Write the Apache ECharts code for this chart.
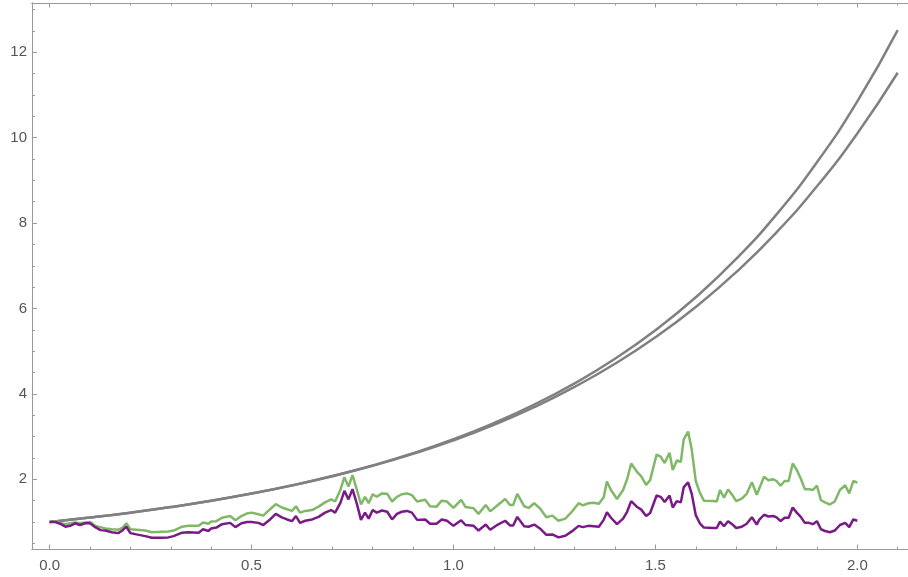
<!DOCTYPE html>
<html>
<head>
<meta charset="utf-8">
<script src="https://cdn.jsdelivr.net/npm/echarts@6/dist/echarts.min.js"></script>
<style>
html,body{margin:0;padding:0;background:#fff;}
#chart{width:908px;height:577px;}
</style>
</head>
<body>
<div id="chart"></div>
<script>
// ---- data ----
var pathX = [0.00,0.014,0.026,0.039,0.051,0.063,0.075,0.088,0.10,0.113,0.126,0.138,0.154,0.17,0.18,0.19,0.20,0.215,0.237,0.253,0.274,0.294,0.307,0.328,0.344,0.369,0.38,0.393,0.40,0.413,0.427,0.447,0.46,0.475,0.489,0.50,0.517,0.529,0.546,0.56,0.575,0.588,0.60,0.61,0.62,0.633,0.65,0.666,0.682,0.697,0.707,0.72,0.73,0.74,0.75,0.761,0.771,0.781,0.79,0.80,0.81,0.823,0.836,0.848,0.86,0.872,0.885,0.897,0.91,0.93,0.942,0.958,0.971,0.984,1.00,1.019,1.03,1.05,1.062,1.08,1.091,1.11,1.128,1.14,1.148,1.158,1.175,1.186,1.20,1.214,1.23,1.245,1.26,1.277,1.293,1.31,1.32,1.334,1.347,1.36,1.372,1.38,1.39,1.405,1.42,1.43,1.44,1.455,1.465,1.477,1.487,1.503,1.513,1.523,1.535,1.543,1.553,1.563,1.570,1.581,1.59,1.60,1.61,1.62,1.644,1.652,1.66,1.67,1.68,1.69,1.70,1.714,1.726,1.739,1.751,1.757,1.769,1.78,1.792,1.80,1.81,1.82,1.83,1.84,1.85,1.86,1.87,1.88,1.89,1.90,1.91,1.92,1.932,1.944,1.957,1.97,1.98,1.99,2.00];
var greenY = [1.00,1.02,0.98,0.95,0.97,0.99,0.97,0.99,1.00,0.91,0.88,0.85,0.83,0.82,0.86,0.97,0.83,0.82,0.80,0.76,0.77,0.78,0.80,0.89,0.91,0.91,0.99,0.96,1.01,1.02,1.10,1.14,1.04,1.14,1.20,1.22,1.18,1.15,1.30,1.42,1.34,1.30,1.26,1.37,1.22,1.26,1.28,1.36,1.46,1.53,1.48,1.75,2.05,1.83,2.10,1.75,1.41,1.59,1.44,1.65,1.59,1.67,1.66,1.48,1.59,1.65,1.67,1.63,1.48,1.52,1.37,1.36,1.50,1.48,1.33,1.52,1.35,1.32,1.19,1.40,1.25,1.40,1.54,1.40,1.40,1.66,1.37,1.33,1.44,1.32,1.11,1.15,1.03,1.08,1.24,1.44,1.39,1.44,1.45,1.43,1.58,1.95,1.75,1.54,1.75,2.00,2.37,2.17,2.07,1.87,1.98,2.58,2.53,2.38,2.62,2.22,2.44,2.41,2.93,3.12,2.70,1.96,1.69,1.50,1.49,1.48,1.75,1.57,1.76,1.64,1.49,1.55,1.66,1.93,1.64,1.78,2.06,1.98,2.00,1.96,1.85,1.96,1.96,2.37,2.22,2.02,1.77,1.77,1.75,1.85,1.51,1.46,1.41,1.48,1.75,1.86,1.67,1.96,1.92];
var purpleY = [1.00,1.00,0.96,0.89,0.91,0.97,0.93,0.97,0.97,0.88,0.81,0.80,0.76,0.74,0.80,0.89,0.74,0.71,0.67,0.63,0.63,0.64,0.67,0.75,0.76,0.75,0.83,0.79,0.85,0.87,0.95,0.98,0.88,0.97,1.00,1.00,0.98,0.93,1.06,1.19,1.11,1.06,1.02,1.14,0.98,1.03,1.06,1.12,1.22,1.28,1.22,1.45,1.73,1.53,1.77,1.42,1.05,1.22,1.08,1.28,1.22,1.27,1.24,1.06,1.19,1.24,1.26,1.22,1.05,1.06,0.96,0.96,1.06,1.03,0.91,1.04,0.93,0.91,0.80,0.94,0.82,0.94,1.03,0.92,0.92,1.12,0.90,0.89,0.94,0.85,0.70,0.71,0.64,0.68,0.78,0.91,0.88,0.91,0.90,0.89,1.05,1.23,1.10,0.95,1.08,1.24,1.49,1.35,1.29,1.14,1.21,1.62,1.59,1.47,1.62,1.34,1.49,1.46,1.81,1.93,1.66,1.16,0.97,0.87,0.86,0.86,1.01,0.90,1.02,0.95,0.86,0.89,0.96,1.11,0.94,1.05,1.17,1.13,1.14,1.11,1.02,1.10,1.10,1.34,1.22,1.12,0.98,0.98,0.95,1.02,0.83,0.79,0.76,0.80,0.93,0.98,0.88,1.06,1.03];
var curveX = [0.0,0.1,0.2,0.3,0.4,0.5,0.6,0.7,0.8,0.9,1.0,1.1,1.2,1.3,1.4,1.5,1.6,1.7,1.8,1.9,2.0,2.1];
var upperY = [1.000,1.103,1.218,1.349,1.498,1.666,1.858,2.077,2.327,2.612,2.939,3.316,3.748,4.247,4.823,5.489,6.262,7.160,8.204,9.425,10.85,12.52];
var lowerY = [1.000,1.103,1.218,1.349,1.498,1.666,1.857,2.071,2.316,2.595,2.913,3.276,3.690,4.164,4.705,5.325,6.035,6.850,7.784,8.861,10.10,11.52];
var xMajor = [0,0.5,1.0,1.5,2.0];
var xMinor = [0.1,0.2,0.3,0.4,0.6,0.7,0.8,0.9,1.1,1.2,1.3,1.4,1.6,1.7,1.8,1.9,2.1];
var yMajor = [2,4,6,8,10,12];
var yMinor = [0.5,1,1.5,2.5,3,3.5,4.5,5,5.5,6.5,7,7.5,8.5,9,9.5,10.5,11,11.5,12.5,13];

function zip(xs, ys){ return xs.map(function(x,i){ return [x, ys[i]]; }); }

var X_MIN = -0.0436, X_MAX = 2.1255, Y_MIN = 0.368, Y_MAX = 13.154;
var AXIS_COLOR = '#9a9a9a';
var FONT = 'Liberation Sans, Arial, sans-serif';

function xAx(pos, ticks, len, labels){
  return {
    type:'value', min:X_MIN, max:X_MAX, position:pos, gridIndex:0,
    axisLine:{show:true, onZero:false, lineStyle:{color:AXIS_COLOR, width:1}},
    axisTick:{show:true, inside:true, length:len, customValues:ticks, lineStyle:{color:AXIS_COLOR, width:1}},
    axisLabel:{show:!!labels, customValues:ticks, margin:9, color:'#555', fontSize:15, fontFamily:FONT,
      formatter:function(v){ return Number(v).toFixed(1); }},
    splitLine:{show:false}
  };
}
function yAx(ticks, len, labels){
  return {
    type:'value', min:Y_MIN, max:Y_MAX, position:'left', gridIndex:0,
    axisLine:{show:true, onZero:false, lineStyle:{color:AXIS_COLOR, width:1}},
    axisTick:{show:true, inside:true, length:len, customValues:ticks, lineStyle:{color:AXIS_COLOR, width:1}},
    axisLabel:{show:!!labels, customValues:ticks, margin:5, color:'#555', fontSize:15, fontFamily:FONT,
      formatter:function(v){ return String(Math.round(v)); }},
    splitLine:{show:false}
  };
}

var chart = echarts.init(document.getElementById('chart'), null, {renderer:'canvas'});
chart.setOption({
  animation:false,
  backgroundColor:'#ffffff',
  grid:{left:32, right:0, top:3, bottom:28, containLabel:false},
  xAxis:[
    xAx('bottom', xMajor, 4.5, true),
    xAx('bottom', xMinor, 2.5, false),
    xAx('top', xMajor, 4.5, false),
    xAx('top', xMinor, 2.5, false)
  ],
  yAxis:[
    yAx(yMajor, 5, true),
    yAx(yMinor, 3, false)
  ],
  series:[
    {type:'line', xAxisIndex:0, yAxisIndex:0, data:zip(curveX, upperY), smooth:true, showSymbol:false,
      lineStyle:{color:'#808080', width:2.5}},
    {type:'line', xAxisIndex:0, yAxisIndex:0, data:zip(curveX, lowerY), smooth:true, showSymbol:false,
      lineStyle:{color:'#808080', width:2.5}},
    {type:'line', xAxisIndex:0, yAxisIndex:0, data:zip(pathX, greenY), showSymbol:false,
      lineStyle:{color:'#80b868', width:2.5}},
    {type:'line', xAxisIndex:0, yAxisIndex:0, data:zip(pathX, purpleY), showSymbol:false,
      lineStyle:{color:'#7a1a86', width:2.5}}
  ]
});
</script>
</body>
</html>
